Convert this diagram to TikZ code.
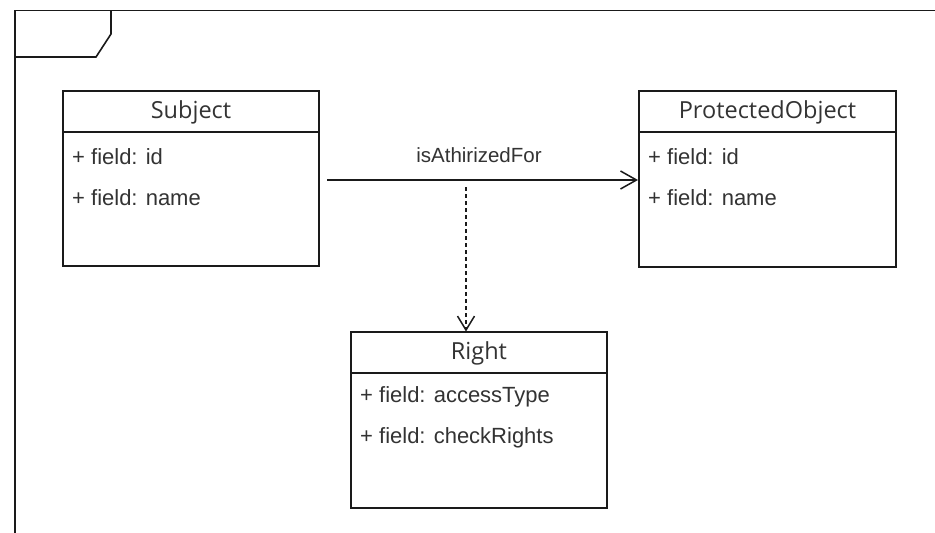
\documentclass[tikz,border=0pt]{standalone}
\usepackage{fontspec}
\setmainfont{Liberation Sans}
\newfontfamily\titlefont{Open Sans}
\usetikzlibrary{arrows.meta}
\definecolor{txt}{HTML}{333333}
\definecolor{ln}{HTML}{1A1A1A}
\begin{document}
\begin{tikzpicture}[x=1pt,y=-1pt,
  frameline/.style={draw=ln,line width=1.6pt},
  classbox/.style={draw=ln,line width=1.6pt,fill=white},
  titletext/.style={font=\titlefont\fontsize{23.5}{27}\selectfont,text=txt,anchor=center,inner sep=0pt},
  fieldtext/.style={font=\fontsize{22}{26}\selectfont,text=txt,anchor=west,inner sep=0pt},
  assoc/.style={draw=ln,line width=1.5pt,-{Straight Barb[length=16pt,width=18pt,line width=1.5pt]}},
  dep/.style={draw=ln,line width=1.5pt,dash pattern=on 4pt off 3pt,-{Straight Barb[length=14pt,width=17pt,line width=1.5pt]}}
]
\useasboundingbox (0,0) rectangle (935,533);
\fill[white] (0,0) rectangle (935,533);
% frame
\draw[frameline] (935,10.5) -- (15,10.5) -- (15,533);
\draw[frameline] (111,10.5) -- (111,34) -- (96,57) -- (15,57);
% Subject
\draw[classbox] (63,91) rectangle (319,266);
\draw[frameline] (63,132) -- (319,132);
\node[titletext] (subjT) at (191,112) {Subject};
\node[fieldtext] (subjF1) at (72,157) {+ field: id};
\node[fieldtext] (subjF2) at (72,198) {+ field: name};
\coordinate (subjR) at (327,180);
% ProtectedObject
\draw[classbox] (639,91) rectangle (896,267);
\draw[frameline] (639,132) -- (896,132);
\node[titletext] (poT) at (767.5,112) {ProtectedObject};
\node[fieldtext] (poF1) at (648,157) {+ field: id};
\node[fieldtext] (poF2) at (648,198) {+ field: name};
\coordinate (poL) at (638,180);
% Right
\draw[classbox] (351,332) rectangle (607,508);
\draw[frameline] (351,373) -- (607,373);
\node[titletext] (rT) at (479,353) {Right};
\node[fieldtext] (rF1) at (360,397) {+ field: accessType};
\node[fieldtext] (rF2) at (360,438) {+ field: checkRights};
% connectors
\draw[assoc] (subjR) -- (poL);
\node[fieldtext,anchor=center,font=\fontsize{20.5}{24}\selectfont] (lbl) at (479,155) {isAthirizedFor};
\coordinate (depS) at (466,187);
\coordinate (depE) at (466,331.5);
\draw[dep] (depS) -- (depE);
\end{tikzpicture}
\end{document}
